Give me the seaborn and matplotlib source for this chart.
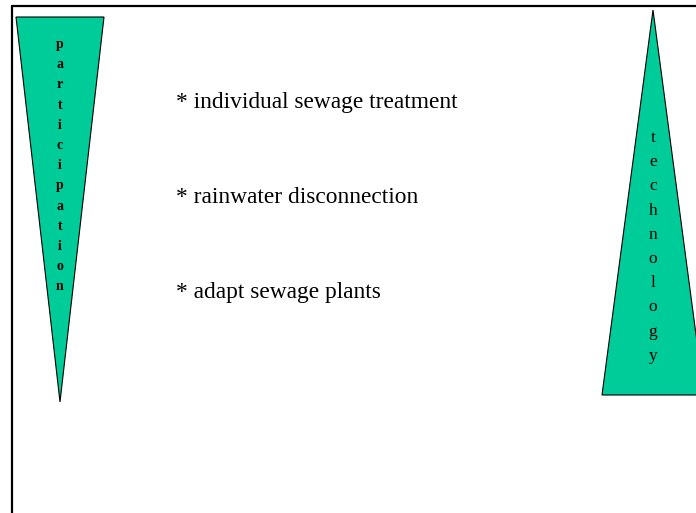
import numpy as np
import seaborn as sns
import matplotlib.pyplot as plt

sns.set_style("white")
plt.rcParams['font.family'] = ['Liberation Serif', 'DejaVu Serif']
plt.rcParams['text.color'] = 'black'

# bullet texts in the middle
bullets = ["* individual sewage treatment", "* rainwater disconnection", "* adapt sewage plants"]
# words written down the two wedges
left_word = "participation"
right_word = "technology"

# wedge outlines (pixel coords of the slide)
left_x = [16, 104, 60]
left_y = [17, 17, 402]
right_x = [602, 653, 704]
right_y = [395, 10, 395]

fig = plt.figure(figsize=(6.96, 5.13), dpi=100)
ax = fig.add_axes([0, 0, 1, 1])
ax.set_xlim(0, 696)
ax.set_ylim(513, 0)
ax.axis("off")

green = "#00cc99"
ax.fill(left_x, left_y, facecolor=green, edgecolor="black", lw=0.8)
ax.fill(right_x, right_y, facecolor=green, edgecolor="black", lw=0.8)

# slide frame (top and left edge only visible)
ax.plot([12, 696], [6, 6], color="black", lw=1.6)
ax.plot([12, 12], [6, 513], color="black", lw=1.6)

for i, ch in enumerate(left_word):
    ax.text(60, 48 + i * 20.2, ch, ha="center", va="baseline",
            fontsize=10, fontweight="bold")

for i, ch in enumerate(right_word):
    ax.text(653, 142 + i * 24.2, ch, ha="center", va="baseline", fontsize=12.5)

for i, b in enumerate(bullets):
    ax.text(176, 108 + i * 95, b, ha="left", va="baseline", fontsize=16.8)

fig.savefig("out.png", dpi=100)
